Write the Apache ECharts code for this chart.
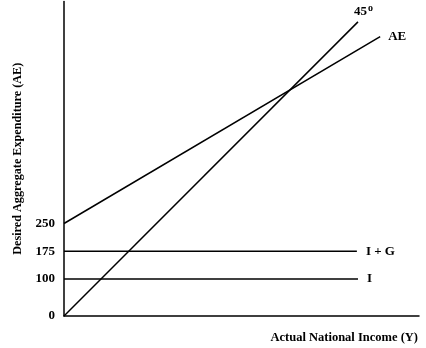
<!DOCTYPE html>
<html><head><meta charset="utf-8">
<script src="https://cdn.jsdelivr.net/npm/echarts@6/dist/echarts.min.js"></script>
<style>html,body{margin:0;padding:0;background:#fff}#c{width:426px;height:348px}</style>
</head><body><div id="c"></div>
<script>
// Data
const yTickLabels = [0, 100, 175, 250];
const line45 = [[0, 0], [795, 795]];
const lineAE = [[0, 250], [855, 755]];
const lineIG = [[0, 175], [792, 175]];
const lineI = [[0, 100], [795, 100]];
const xName = 'Actual National Income (Y)';
const yName = 'Desired Aggregate Expenditure (AE)';

const FONT = '"Liberation Serif", "Times New Roman", serif';
const lbl = { fontFamily: FONT, fontWeight: 'bold', fontSize: 13, color: '#000' };

function mk(data, name, labelOpt) {
  return {
    type: 'line', data: data, symbol: 'none', silent: true,
    lineStyle: { color: '#000', width: 1.5 }, animation: false,
    endLabel: Object.assign({ show: true, formatter: name }, lbl, labelOpt)
  };
}

const chart = echarts.init(document.getElementById('c'), null, { renderer: 'canvas' });
chart.setOption({
  animation: false,
  grid: { left: 64, right: 7, top: 1.5, bottom: 32, containLabel: false },
  xAxis: {
    type: 'value', min: 0, max: 960,
    axisLine: { show: true, lineStyle: { color: '#000', width: 1.5 } },
    axisTick: { show: false }, axisLabel: { show: false }, splitLine: { show: false },
    name: xName, nameLocation: 'end', nameGap: -1,
    nameTextStyle: Object.assign({}, lbl, { fontSize: 12.5, align: 'right', verticalAlign: 'top', padding: [15, 0, 0, 0] })
  },
  yAxis: {
    type: 'value', min: 0, max: 850, interval: 25,
    axisLine: { show: true, lineStyle: { color: '#000', width: 1.5 } },
    axisTick: { show: false }, splitLine: { show: false },
    axisLabel: Object.assign({}, lbl, { margin: 9, formatter: v => yTickLabels.includes(v) ? String(v) : '' }),
    name: yName, nameLocation: 'middle', nameGap: 40,
    nameTextStyle: Object.assign({}, lbl, { fontSize: 12.2 })
  },
  series: [
    mk(line45, '{a|45}{b|o}', {
      distance: 0, offset: [-4, -10],
      rich: { a: Object.assign({}, lbl), b: Object.assign({}, lbl, { fontSize: 10, padding: [0, 0, 6, 1] }) }
    }),
    mk(lineAE, 'AE', { distance: 8 }),
    mk(lineIG, 'I + G', { distance: 9 }),
    mk(lineI, 'I', { distance: 9 })
  ]
});
</script></body></html>
